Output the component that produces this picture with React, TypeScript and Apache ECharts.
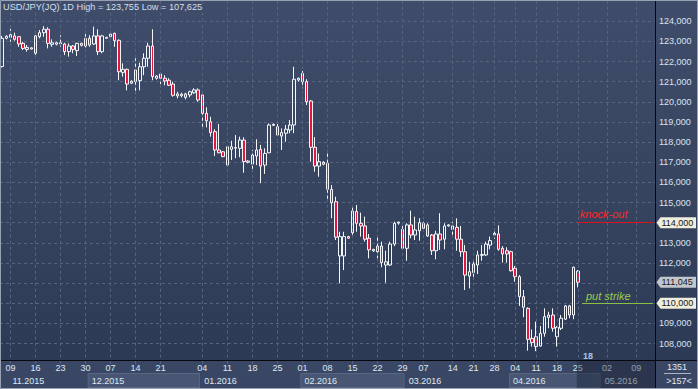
import React, { useEffect, useRef } from 'react';
import * as echarts from 'echarts';

// [open, close, low, high] per trading bar
const candles: number[][] = [
  [121.75, 123.15, 121.7, 123.27], [123.15, 123.25, 123.1, 123.3], [123.2, 123.33, 122.98, 123.62],
  [123.27, 123.1, 123.03, 123.43], [123.23, 122.87, 122.73, 123.25], [122.9, 122.65, 122.57, 122.98],
  [122.6, 122.7, 122.49, 122.82], [122.62, 122.68, 122.6, 122.7], [122.41, 123.27, 122.24, 123.32],
  [123.23, 123.43, 123.15, 123.56], [123.43, 123.6, 123.23, 123.755], [123.6, 122.9, 122.65, 123.7],
  [122.85, 122.93, 122.73, 123.1], [122.86, 122.93, 122.8, 122.98], [122.87, 122.93, 122.73, 123.3],
  [122.87, 122.49, 122.32, 122.93], [122.49, 122.77, 122.24, 122.9], [122.77, 122.6, 122.41, 122.82],
  [122.54, 122.9, 122.27, 122.93], [122.9, 122.8, 122.75, 122.93], [122.77, 123.15, 122.7, 123.36],
  [123.15, 122.82, 122.73, 123.3], [122.87, 123.27, 122.82, 123.73], [123.27, 122.49, 122.32, 123.6],
  [122.49, 123.27, 122.41, 123.32], [123.15, 123.2, 123.15, 123.22], [123.23, 123.36, 123.15, 123.48],
  [123.4, 123.03, 122.73, 123.43], [123.05, 121.49, 121.07, 123.1], [121.46, 121.61, 121.25, 121.91],
  [121.61, 120.88, 120.57, 121.65], [120.92, 121.02, 120.88, 121.07], [121.0, 121.58, 120.39, 122.16],
  [121.05, 121.74, 120.57, 121.94], [121.74, 122.16, 121.32, 122.41], [122.16, 122.77, 121.74, 122.93],
  [122.77, 121.25, 121.07, 123.6], [121.17, 121.28, 121.1, 121.32], [121.38, 121.17, 120.88, 121.44],
  [121.17, 121.03, 120.82, 121.32], [121.07, 120.82, 120.78, 121.17], [120.88, 120.32, 120.25, 121.0],
  [120.29, 120.39, 120.17, 120.5], [120.3, 120.38, 120.22, 120.45], [120.39, 120.22, 120.12, 120.45],
  [120.34, 120.5, 120.22, 120.55], [120.45, 120.59, 120.39, 120.67], [120.59, 120.09, 120.0, 120.67],
  [120.34, 119.43, 118.73, 120.34], [119.43, 119.06, 118.73, 119.73], [119.01, 118.47, 118.27, 119.26],
  [118.52, 117.61, 117.31, 118.64], [117.61, 117.47, 117.45, 118.9], [117.52, 117.28, 117.25, 117.56],
  [116.86, 117.77, 116.8, 117.8], [117.64, 117.77, 117.11, 118.07], [117.7, 117.73, 117.2, 118.35],
  [117.69, 118.1, 117.25, 118.27], [118.1, 117.03, 116.48, 118.24], [117.0, 117.06, 116.95, 117.1],
  [116.91, 117.36, 116.53, 117.61], [117.31, 117.61, 116.86, 118.14], [117.64, 116.81, 115.96, 117.86],
  [116.86, 117.44, 116.42, 117.69], [117.47, 118.85, 117.45, 118.93], [118.83, 118.88, 118.8, 118.93],
  [118.76, 118.35, 118.3, 118.9], [118.3, 118.47, 117.61, 118.68], [118.44, 118.64, 118.02, 118.85],
  [118.6, 118.85, 118.44, 119.1], [118.85, 121.12, 118.44, 121.74], [121.08, 121.17, 121.0, 121.2],
  [121.41, 121.0, 120.67, 121.53], [121.0, 120.0, 119.84, 121.12], [120.04, 117.74, 117.03, 120.09],
  [117.74, 116.81, 116.53, 118.24], [116.81, 117.03, 116.28, 117.44], [117.0, 116.9, 116.85, 117.05],
  [116.95, 115.66, 115.13, 117.57], [115.66, 114.99, 114.22, 115.87], [115.04, 113.28, 113.14, 115.29],
  [112.35, 113.31, 110.99, 113.55], [112.35, 113.31, 111.65, 113.55], [113.31, 113.23, 113.2, 113.35],
  [113.5, 114.58, 113.31, 114.83], [114.55, 113.97, 113.55, 114.88], [113.97, 113.84, 113.31, 114.5],
  [113.84, 113.18, 113.06, 114.3], [113.23, 112.65, 112.23, 113.44], [112.6, 112.68, 112.55, 112.7],
  [112.56, 112.84, 112.23, 113.39], [112.84, 112.02, 111.79, 113.06], [111.9, 112.06, 111.02, 112.61],
  [111.9, 112.94, 111.85, 113.06], [112.94, 113.97, 112.84, 114.05], [113.98, 114.03, 113.9, 114.05],
  [113.67, 112.73, 112.65, 113.84], [112.73, 113.89, 112.11, 113.97], [113.89, 113.39, 113.23, 114.6],
  [113.39, 113.64, 113.14, 114.3], [113.6, 114.0, 113.11, 114.22], [113.97, 113.72, 113.6, 114.05],
  [113.89, 113.34, 113.3, 113.97], [113.39, 112.61, 112.4, 113.44], [112.61, 113.44, 112.18, 113.6],
  [113.44, 113.14, 112.65, 114.47], [113.18, 113.84, 112.68, 113.97], [113.84, 113.89, 113.8, 113.92],
  [113.67, 113.84, 113.39, 114.05], [113.77, 113.18, 112.61, 114.22], [113.18, 112.56, 112.31, 113.84],
  [112.56, 111.4, 110.66, 112.89], [111.35, 111.57, 110.74, 112.06], [111.52, 111.95, 111.19, 112.15],
  [111.9, 112.4, 111.45, 112.61], [112.38, 112.42, 112.11, 112.89], [112.4, 112.94, 112.35, 113.06],
  [112.89, 113.11, 112.68, 113.31], [113.39, 113.47, 113.2, 113.7], [113.44, 112.68, 112.61, 113.87],
  [112.73, 112.45, 112.02, 112.84], [112.61, 112.45, 112.02, 112.78], [112.56, 111.62, 111.57, 112.61],
  [111.74, 111.32, 111.07, 111.85], [111.32, 110.33, 109.87, 111.4], [110.33, 109.8, 109.31, 110.66],
  [109.75, 108.21, 107.65, 109.8], [108.26, 108.05, 107.85, 108.7], [108.34, 107.85, 107.625, 109.09],
  [107.88, 108.51, 107.85, 108.87], [108.51, 109.34, 108.34, 109.75], [109.3, 109.42, 108.76, 109.58],
  [109.42, 108.76, 108.59, 109.75], [108.34, 108.81, 107.85, 108.87], [108.76, 109.26, 108.67, 109.42],
  [109.21, 109.87, 109.17, 109.92], [109.87, 109.42, 109.26, 109.92], [109.42, 111.79, 109.21, 111.82],
  [111.6, 111.045, 110.79, 111.65],
];

const CATEGORY_COUNT = 157;
const categories = Array.from({ length: CATEGORY_COUNT }, (_, i) => String(i));

const weekIdx = [2, 8, 14, 20, 26, 32, 38, 48, 54, 60, 66, 72, 78, 84, 90, 96, 101, 108, 113, 118, 123, 128, 133, 138, 145, 152];
const weekLabels = ['09', '16', '23', '30', '07', '14', '21', '04', '11', '18', '25', '01', '08', '15', '22', '29', '07', '14', '21', '28', '04', '11', '18', '25', '02', '09'];

const monthStartIdx = [0, 21, 48, 72, 97, 122, 144];
const monthLabelIdx = [2, 21, 48, 72, 97, 122, 144];
const monthLabels = ['11.2015', '12.2015', '01.2016', '02.2016', '03.2016', '04.2016', '05.2016'];

const futureStartIdx = 138;
const knockOutLevel = 114;
const knockOutStartIdx = 138;
const putStrikeLevel = 110;
const putStrikeStartIdx = 139;
const counterText = '18';
const counterIdx = 139;
const footerTop = '1351';
const footerBottom = '>157<';

const FONT = '"Liberation Sans", Arial, sans-serif';
const STRIP = '#3a4764';
const BOX_LIGHT = '#485673';
const BOX_EDGE = '#5a6885';
const GRIDLINE = '#56647f';

const fmt = (v: number) => v.toFixed(3).replace('.', ',');

export default function App() {
  const ref = useRef<HTMLDivElement>(null);

  useEffect(() => {
    const chart = echarts.init(ref.current!, null, { renderer: 'svg' });
    const maxHigh = Math.max(...candles.map((c) => c[3]));
    const minLow = Math.min(...candles.map((c) => c[2]));
    const lastClose = candles[candles.length - 1][1];
    const tagLevels = [knockOutLevel, lastClose, putStrikeLevel];

    const monthBoxes = monthStartIdx.map((s, i) => [
      s,
      (i + 1 < monthStartIdx.length ? monthStartIdx[i + 1] : CATEGORY_COUNT) - 1,
      i % 2,
    ]);

    chart.setOption({
      animation: false,
      title: {
        text: `USD/JPY(JQ) 1D High = ${fmt(maxHigh)} Low = ${fmt(minLow)}`,
        left: 3,
        top: 2,
        padding: 0,
        textStyle: { color: '#d5dfec', fontSize: 9.2, fontWeight: 'normal', fontFamily: FONT },
      },
      grid: [
        { left: 0, width: 655, top: 1.05, height: 362.7 },
        { left: 0, width: 655, top: 360.5, height: 28.5 },
      ],
      xAxis: [
        {
          gridIndex: 0, type: 'category', data: categories, boundaryGap: true,
          axisLine: { show: false }, axisTick: { show: false }, axisLabel: { show: false }, splitLine: { show: false },
        },
        {
          gridIndex: 1, type: 'category', data: categories, boundaryGap: true, position: 'top', z: 5,
          axisLine: { show: false }, axisTick: { show: false }, splitLine: { show: false },
          axisLabel: {
            inside: true, margin: 3, fontSize: 9, fontFamily: FONT,
            color: (_v: string, i: number) => (i > futureStartIdx ? '#8590a6' : '#dfe7f2'),
            interval: (i: number) => weekIdx.includes(i),
            formatter: (_v: string, i: number) => weekLabels[weekIdx.indexOf(i)] ?? '',
          },
        },
        {
          gridIndex: 1, type: 'category', data: categories, boundaryGap: true, position: 'bottom', z: 5,
          axisLine: { show: false }, axisTick: { show: false }, splitLine: { show: false },
          axisLabel: {
            inside: true, margin: 4, fontSize: 9, fontFamily: FONT, align: 'left', padding: [0, 0, 0, 2],
            color: (_v: string, i: number) => (i > futureStartIdx ? '#8590a6' : '#dfe7f2'),
            interval: (i: number) => monthLabelIdx.includes(i),
            formatter: (_v: string, i: number) => monthLabels[monthLabelIdx.indexOf(i)] ?? '',
          },
        },
      ],
      yAxis: [
        {
          gridIndex: 0, type: 'value', position: 'right', min: 107, max: 125, interval: 1,
          axisLine: { show: false }, axisTick: { show: false },
          axisLabel: {
            margin: 4, color: '#d9e3f1', fontSize: 9, fontFamily: FONT,
            showMinLabel: false, showMaxLabel: false,
            // labels hidden where a price tag sits on top of them (as in the reference)
            formatter: (v: number) => (tagLevels.some((l) => Math.abs(l - v) < 0.6) ? '' : fmt(v)),
          },
          splitLine: { show: true, showMinLine: false, showMaxLine: false, lineStyle: { color: GRIDLINE, type: [3, 3], width: 1 } },
        },
        { gridIndex: 1, type: 'value', min: 0, max: 1, show: false },
      ],
      series: [
        {
          type: 'line', xAxisIndex: 0, yAxisIndex: 0, data: [], z: 1, silent: true,
          markLine: {
            silent: true, symbol: ['none', 'none'], label: { show: false },
            lineStyle: { color: GRIDLINE, type: [3, 3], width: 1 },
            data: weekIdx.map((i) => ({ xAxis: i })),
          },
        },
        {
          type: 'candlestick', xAxisIndex: 0, yAxisIndex: 0, data: candles, barWidth: 3, z: 3,
          itemStyle: { color: 'transparent', color0: '#e3173e', borderColor: '#f4f6fa', borderColor0: '#f4f6fa', borderWidth: 1 },
          markLine: {
            silent: true, symbol: ['none', 'none'],
            data: [
              [
                {
                  coord: [knockOutStartIdx, knockOutLevel],
                  lineStyle: { color: '#e0101c', width: 1, type: 'solid' },
                  label: { show: true, position: 'insideStartTop', formatter: 'knock-out', color: '#ff2626', fontStyle: 'italic', fontSize: 11, fontFamily: FONT, distance: [2, 3] },
                },
                { coord: [CATEGORY_COUNT - 1, knockOutLevel] },
              ],
              [
                {
                  coord: [putStrikeStartIdx, putStrikeLevel],
                  lineStyle: { color: '#8cc043', width: 1, type: 'solid' },
                  label: { show: true, position: 'insideStartTop', formatter: 'put strike', color: '#9ccc4c', fontStyle: 'italic', fontSize: 11, fontFamily: FONT, distance: [4, 2] },
                },
                { coord: [CATEGORY_COUNT - 1, putStrikeLevel] },
              ],
            ],
          },
        },
        {
          type: 'custom', xAxisIndex: 1, yAxisIndex: 1, z: 3, silent: true,
          data: monthBoxes,
          renderItem: (_p: any, api: any) => {
            const s = api.value(0), e = api.value(1), light = api.value(2);
            const bw = api.size([1, 0])[0];
            const a = api.coord([s, 1]);
            const b = api.coord([e, 0]);
            const yRow = api.coord([s, 0.56])[1];
            const x0 = a[0] - bw / 2, x1 = b[0] + bw / 2;
            const children: any[] = [
              { type: 'rect', shape: { x: x0, y: a[1], width: x1 - x0, height: b[1] - a[1] }, style: { fill: STRIP } },
            ];
            if (light) {
              children.push({
                type: 'rect',
                shape: { x: x0 + 0.5, y: yRow + 0.5, width: x1 - x0 - 1, height: b[1] - yRow - 2 },
                style: { fill: BOX_LIGHT, stroke: BOX_EDGE, lineWidth: 1 },
              });
            }
            return { type: 'group', children };
          },
        },
        {
          type: 'custom', xAxisIndex: 1, yAxisIndex: 1, z: 6, silent: true,
          data: [[futureStartIdx, CATEGORY_COUNT - 1]],
          renderItem: (_p: any, api: any) => {
            const bw = api.size([1, 0])[0];
            const a = api.coord([api.value(0), 1]);
            const b = api.coord([api.value(1), 0]);
            const x0 = a[0] - 1, x1 = b[0] + bw / 2;
            return { type: 'rect', shape: { x: x0, y: a[1], width: x1 - x0, height: b[1] - a[1] }, style: { fill: 'rgba(18,25,42,0.38)' } };
          },
        },
      ],
    });

    const yOf = (v: number) => chart.convertToPixel({ yAxisIndex: 0 }, v) as number;
    const xOf = (i: number) => chart.convertToPixel({ xAxisIndex: 0 }, i) as number;
    const tag = (id: string, level: number, fill: string) => {
      const y = yOf(level);
      return [
        {
          id: id + 'p', type: 'polygon', z: 20, silent: true,
          shape: { points: [[656.5, y], [660.5, y - 5.5], [696, y - 5.5], [696, y + 5.5], [660.5, y + 5.5]] },
          style: { fill },
        },
        {
          id: id + 't', type: 'text', z: 21, silent: true, x: 661.5, y,
          style: { text: fmt(level), fill: '#15171c', font: `9px ${FONT}`, verticalAlign: 'middle' },
        },
      ];
    };

    chart.setOption({
      graphic: [
        { id: 'boxbg', type: 'rect', z: 10, silent: true, shape: { x: 655, y: 360, width: 43, height: 29 }, style: { fill: STRIP } },
        { id: 'hline', type: 'line', z: 22, silent: true, shape: { x1: 0, y1: 360.5, x2: 698, y2: 360.5 }, style: { stroke: '#06080d', lineWidth: 1 } },
        { id: 'vline', type: 'line', z: 22, silent: true, shape: { x1: 655.5, y1: 0, x2: 655.5, y2: 389 }, style: { stroke: '#06080d', lineWidth: 1 } },
        { id: 'f1', type: 'text', z: 23, silent: true, x: 677, y: 367, style: { text: footerTop, fill: '#e2e9f3', font: `9px ${FONT}`, align: 'center', verticalAlign: 'middle' } },
        { id: 'f2', type: 'line', z: 23, silent: true, shape: { x1: 664, y1: 373.5, x2: 691, y2: 373.5 }, style: { stroke: '#aab4c3', lineWidth: 1 } },
        { id: 'f3', type: 'text', z: 23, silent: true, x: 679, y: 380.5, style: { text: footerBottom, fill: '#e2e9f3', font: `9px ${FONT}`, align: 'center', verticalAlign: 'middle' } },
        { id: 'cnt', type: 'text', z: 23, silent: true, x: xOf(counterIdx) + 1, y: 355.5, style: { text: counterText, fill: '#a9c6ea', font: `bold 9px ${FONT}`, align: 'left', verticalAlign: 'middle' } },
        ...tag('ko', knockOutLevel, '#efeddb'),
        ...tag('lp', lastClose, '#c2c6cc'),
        ...tag('ps', putStrikeLevel, '#efeddb'),
        { id: 'frame', type: 'rect', z: 30, silent: true, shape: { x: 0.5, y: 0.5, width: 697, height: 388 }, style: { fill: 'none', stroke: '#98a1b2', lineWidth: 1 } },
      ],
    });

    return () => chart.dispose();
  }, []);

  return (
    <div
      ref={ref}
      style={{
        position: 'fixed', left: 0, top: 0, width: 698, height: 389,
        background: 'linear-gradient(180deg, #3f4d6b 0%, #36445f 50%, #2b3853 100%)',
      }}
    />
  );
}
